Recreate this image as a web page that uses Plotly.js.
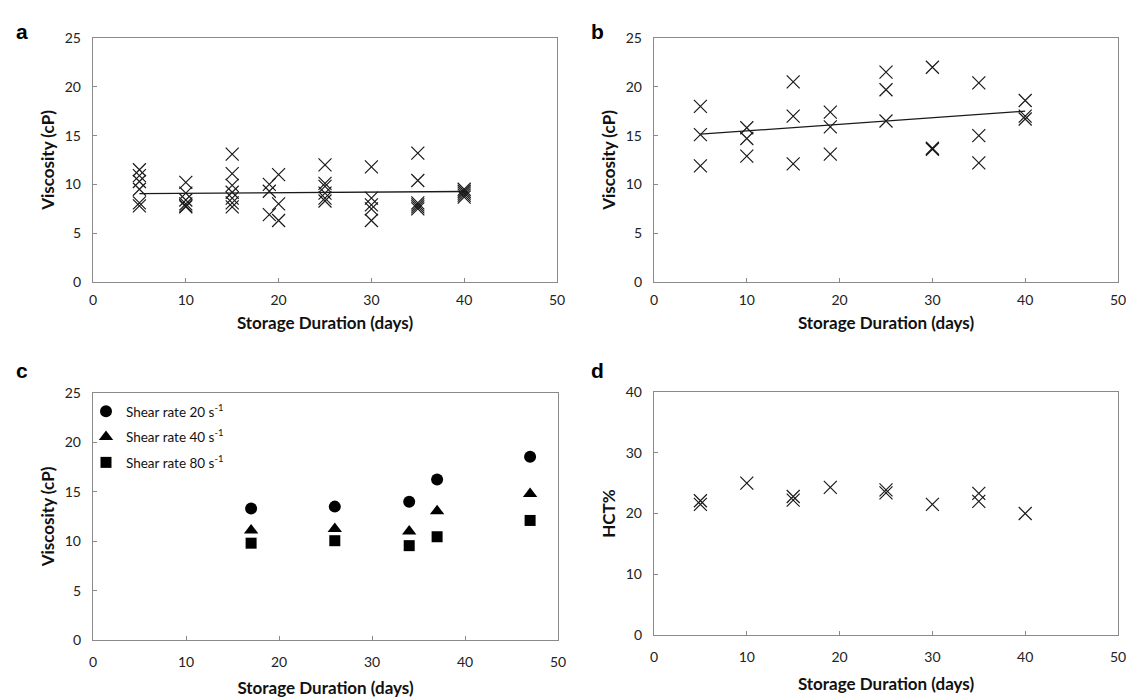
<!DOCTYPE html>
<html>
<head>
<meta charset="utf-8">
<script src="https://cdn.plot.ly/plotly-3.0.1.min.js"></script>
<style>html,body{margin:0;padding:0;background:#fff;}#chart{width:1136px;height:698px;}</style>
</head>
<body>
<div id="chart"></div>
<script>
// ---- Panel a: viscosity vs storage duration ----
const aDays = [5,5,5,5,5,5, 10,10,10,10,10,10, 15,15,15,15,15,15,15, 19,19,19, 20,20,20, 25,25,25,25,25,25, 30,30,30,30,30, 35,35,35,35,35,35, 40,40,40,40,40];
const aVisc = [11.5,10.9,10.3,9.5,8.1,7.8, 10.2,9.1,8.4,8.0,7.8,7.7, 13.1,11.1,9.9,9.2,8.6,8.1,7.7, 10.0,9.3,6.9, 11.0,8.0,6.3, 12.0,10.1,9.8,9.1,8.6,8.3, 11.8,8.6,7.9,7.5,6.3, 13.2,10.4,8.1,7.9,7.7,7.5, 9.5,9.3,9.1,8.9,8.7];
const aTrendDays = [5, 40];
const aTrendVisc = [9.05, 9.27];

// ---- Panel b ----
const bDays = [5,5,5, 10,10,10, 15,15,15, 19,19,19, 25,25,25, 30,30,30, 35,35,35, 40,40,40];
const bVisc = [18.0,15.1,11.9, 15.8,14.7,12.9, 20.5,17.0,12.1, 17.4,15.9,13.1, 21.5,19.7,16.5, 22.0,13.7,13.6, 20.4,15.0,12.2, 18.6,17.0,16.7];
const bTrendDays = [5, 40];
const bTrendVisc = [15.15, 17.5];

// ---- Panel c ----
const cDays = [17, 26, 34, 37, 47];
const shear20 = [13.3, 13.5, 14.0, 16.25, 18.55];
const shear40 = [11.1, 11.25, 11.0, 13.05, 14.8];
const shear80 = [9.8, 10.05, 9.55, 10.45, 12.1];
const cNames = ['Shear rate 20 s<sup>-1</sup>', 'Shear rate 40 s<sup>-1</sup>', 'Shear rate 80 s<sup>-1</sup>'];

// ---- Panel d: HCT% ----
const dDays = [5,5, 10, 15,15, 19, 25,25, 30, 35,35, 40];
const dHct = [22.1,21.5, 25.0, 22.8,22.2, 24.3, 23.9,23.4, 21.5, 23.3,22.0, 20.0];

// ---- labels ----
const panelLetters = ['a','b','c','d'];
const xTitle = 'Storage Duration (days)';
const yTitleVisc = 'Viscosity (cP)';
const yTitleHct = 'HCT%';

const FONT = 'Lato, "Open Sans", sans-serif';
const INK = '#1a1a1a';
const FRAME = '#8a8a8a';

const xMark = {symbol: 'x-thin-open', size: 13, color: INK, line: {width: 1.2, color: INK}};

const traces = [
  {x: aDays, y: aVisc, xaxis: 'x', yaxis: 'y', mode: 'markers', marker: xMark, showlegend: false},
  {x: aTrendDays, y: aTrendVisc, xaxis: 'x', yaxis: 'y', mode: 'lines', line: {color: INK, width: 1.3}, showlegend: false},
  {x: bDays, y: bVisc, xaxis: 'x2', yaxis: 'y2', mode: 'markers', marker: xMark, showlegend: false},
  {x: bTrendDays, y: bTrendVisc, xaxis: 'x2', yaxis: 'y2', mode: 'lines', line: {color: INK, width: 1.3}, showlegend: false},
  {x: cDays, y: shear20, xaxis: 'x3', yaxis: 'y3', mode: 'markers', name: cNames[0], legendgroup: 'g1',
   marker: {symbol: 'circle', size: 12, color: '#000'}},
  {x: cDays, y: shear40, xaxis: 'x3', yaxis: 'y3', mode: 'markers', name: cNames[1], legendgroup: 'g2',
   marker: {symbol: 'triangle-up', size: 12.5, color: '#000'}},
  {x: cDays, y: shear80, xaxis: 'x3', yaxis: 'y3', mode: 'markers', name: cNames[2], legendgroup: 'g3',
   marker: {symbol: 'square', size: 11, color: '#000'}},
  {x: dDays, y: dHct, xaxis: 'x4', yaxis: 'y4', mode: 'markers', marker: xMark, showlegend: false}
];

function W(px){ return px/1136; }
function H(py){ return 1 - py/698; }

function xAxis(domain, anchor, labelGap, titleGap){
  return {
    domain: domain, anchor: anchor, range: [0, 50], dtick: 10, tick0: 0,
    showgrid: false, zeroline: false, showline: true, mirror: true,
    linecolor: FRAME, linewidth: 1.2,
    ticks: 'inside', ticklen: 4, tickcolor: FRAME, tickwidth: 1,
    tickfont: {family: FONT, size: 14, color: '#222'},
    ticklabelstandoff: labelGap,
    title: {text: xTitle, font: {family: FONT, size: 17, color: '#111', weight: 'bold'}, standoff: titleGap},
    fixedrange: true
  };
}
function yAxis(domain, anchor, range, dtick, title){
  return {
    domain: domain, anchor: anchor, range: range, dtick: dtick, tick0: 0,
    showgrid: false, zeroline: false, showline: true, mirror: true,
    linecolor: FRAME, linewidth: 1.2,
    ticks: 'inside', ticklen: 4, tickcolor: FRAME, tickwidth: 1,
    tickfont: {family: FONT, size: 14, color: '#222'},
    ticklabelstandoff: 8,
    title: {text: title, font: {family: FONT, size: 17, color: '#111', weight: 'bold'}, standoff: 5},
    fixedrange: true
  };
}

const layout = {
  width: 1136, height: 698,
  margin: {l: 0, r: 0, t: 0, b: 0},
  paper_bgcolor: '#fff', plot_bgcolor: '#fff',
  font: {family: FONT, color: '#222'},
  xaxis:  xAxis([W(93), W(557)], 'y', 5, 10),
  yaxis:  yAxis([H(282), H(38)], 'x', [0, 25], 5, yTitleVisc),
  xaxis2: xAxis([W(654), W(1118)], 'y2', 5, 10),
  yaxis2: yAxis([H(282), H(38)], 'x2', [0, 25], 5, yTitleVisc),
  xaxis3: xAxis([W(93), W(558)], 'y3', 9, 14),
  yaxis3: yAxis([H(640), H(393)], 'x3', [0, 25], 5, yTitleVisc),
  xaxis4: xAxis([W(654), W(1118)], 'y4', 9, 14),
  yaxis4: yAxis([H(635), H(392)], 'x4', [0, 40], 10, yTitleHct),
  showlegend: true,
  legend: {
    x: W(86), y: H(396), xanchor: 'left', yanchor: 'top',
    bgcolor: 'rgba(0,0,0,0)', borderwidth: 0,
    font: {family: FONT, size: 13.5, color: '#111'},
    traceorder: 'grouped', tracegroupgap: 5, itemwidth: 30
  },
  annotations: [
    {text: '<b>' + panelLetters[0] + '</b>', x: W(14), y: H(18), xref: 'paper', yref: 'paper', showarrow: false, font: {family: 'Liberation Sans, Arial, sans-serif', size: 21, color: '#000'}},
    {text: '<b>' + panelLetters[1] + '</b>', x: W(597), y: H(18), xref: 'paper', yref: 'paper', showarrow: false, font: {family: 'Liberation Sans, Arial, sans-serif', size: 21, color: '#000'}},
    {text: '<b>' + panelLetters[2] + '</b>', x: W(14), y: H(370), xref: 'paper', yref: 'paper', showarrow: false, font: {family: 'Liberation Sans, Arial, sans-serif', size: 21, color: '#000'}},
    {text: '<b>' + panelLetters[3] + '</b>', x: W(597), y: H(370), xref: 'paper', yref: 'paper', showarrow: false, font: {family: 'Liberation Sans, Arial, sans-serif', size: 21, color: '#000'}}
  ]
};

Plotly.newPlot('chart', traces, layout, {displayModeBar: false, staticPlot: true});
</script>
</body>
</html>
